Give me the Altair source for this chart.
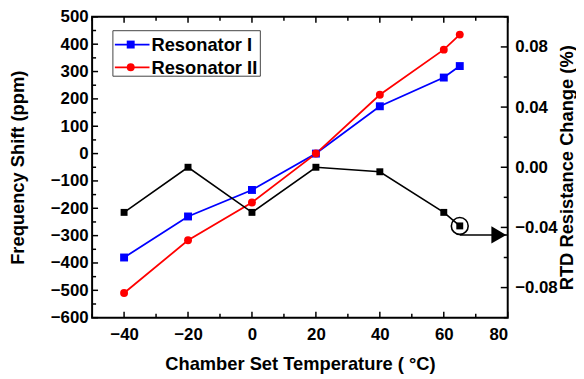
import altair as alt
import pandas as pd

# ---- data ----
temps = [-40, -20, 0, 20, 40, 60, 65]
res1 = [-380, -230, -133, 0, 173, 278, 320]
res2 = [-510, -317, -179, 0, 215, 380, 435]
rtd = [-0.030, 0.000, -0.030, 0.000, -0.003, -0.030, -0.039]
series = ["Resonator I", "Resonator II"]
colors = ["#0000ff", "#ff0000"]

x_major = [-40, -20, 0, 20, 40, 60, 80]
x_minor = [-50, -30, -10, 10, 30, 50, 70]
left_major = list(range(-600, 501, 100))
left_minor = list(range(-550, 500, 100))
right_major = [-0.08, -0.04, 0.0, 0.04, 0.08]
right_minor = [-0.1, -0.06, -0.02, 0.02, 0.06, 0.1]

callout_temp = [65]
callout_rtd = [-0.039]
arrow_from = [65]
arrow_to = [80]
arrow_level = [-0.045]

x_domain = [-50, 80]
left_domain = [-600, 500]
right_domain = [-0.1, 0.1]

TOTAL_W, TOTAL_H = 574, 367
FONT = "Liberation Sans"
LABEL_SIZE = 17

res_df = pd.DataFrame({
    "temp": temps * 2,
    "shift": res1 + res2,
    "series": [series[0]] * len(temps) + [series[1]] * len(temps),
})
rtd_df = pd.DataFrame({"temp": temps, "rtd": rtd})

xs = alt.Scale(domain=x_domain, nice=False, zero=False)
ls = alt.Scale(domain=left_domain, nice=False, zero=False)
rs = alt.Scale(domain=right_domain, nice=False, zero=False)
cs = alt.Scale(domain=series, range=colors)
ss = alt.Scale(domain=series, range=["square", "circle"])

x_axis = alt.Axis(values=x_major, title="Chamber Set Temperature ( °C)", ticks=False,
                  domain=False, grid=False, labelPadding=9, titlePadding=12, format="d")
l_axis = alt.Axis(values=left_major, title="Frequency Shift (ppm)", ticks=False,
                  domain=False, grid=False, labelPadding=4, titlePadding=23, format="d")
r_axis = alt.Axis(values=right_major, title="RTD Resistance Change (%)", orient="right",
                  ticks=False, domain=False, grid=False, labelPadding=7, titlePadding=0,
                  format=".2f", titleAngle=270, titleBaseline="top")

X = alt.X("temp:Q", scale=xs, axis=x_axis)
YL = alt.Y("shift:Q", scale=ls, axis=l_axis)
YR = alt.Y("rtd:Q", scale=rs, axis=r_axis)

# ---- inward tick marks ----
def xticks(vals, length, top):
    d = pd.DataFrame({"temp": vals})
    if top:
        m = alt.Chart(d).mark_rule(color="black", strokeWidth=1.5, y=0, y2=length)
    else:
        m = alt.Chart(d).mark_rule(color="black", strokeWidth=1.5, y="height",
                                   y2={"expr": f"height - {length}"})
    return m.encode(x=X)

def lticks(vals, length):
    d = pd.DataFrame({"shift": vals})
    return alt.Chart(d).mark_rule(color="black", strokeWidth=1.5, x=0, x2=length).encode(y=YL)

def rticks(vals, length):
    d = pd.DataFrame({"rtd": vals})
    return alt.Chart(d).mark_rule(color="black", strokeWidth=1.5, x="width",
                                  x2={"expr": f"width - {length}"}).encode(y=YR)

res_lines = alt.Chart(res_df).mark_line(strokeWidth=1.8).encode(
    x=X, y=YL, color=alt.Color("series:N", scale=cs, legend=None), detail="series:N")
res_pts = alt.Chart(res_df).mark_point(filled=True, opacity=1, size=64).encode(
    x=X, y=YL, color=alt.Color("series:N", scale=cs, legend=None),
    shape=alt.Shape("series:N", scale=ss, legend=None))

left = alt.layer(
    xticks(x_major, 6, False), xticks(x_minor, 4, False),
    xticks(x_major, 6, True), xticks(x_minor, 4, True),
    lticks(left_major, 6), lticks(left_minor, 4),
    res_lines, res_pts,
)

rtd_line = alt.Chart(rtd_df).mark_line(color="black", strokeWidth=1.6).encode(x=X, y=YR)
rtd_pts = alt.Chart(rtd_df).mark_point(filled=True, opacity=1, shape="square", size=49,
                                        color="black").encode(x=X, y=YR)
call_df = pd.DataFrame({"temp": callout_temp, "rtd": callout_rtd})
circle = alt.Chart(call_df).mark_point(shape="circle", filled=False, size=290, color="black",
                                       strokeWidth=1.6, opacity=1).encode(x=X, y=YR)
arr_df = pd.DataFrame({"temp": arrow_from, "temp2": arrow_to, "rtd": arrow_level})
arrow_line = alt.Chart(arr_df).mark_rule(color="black", strokeWidth=1.6).encode(
    x=X, x2="temp2:Q", y=YR)
head_df = pd.DataFrame({"temp": arrow_to, "rtd": arrow_level})
arrow_head = alt.Chart(head_df).mark_point(shape="triangle-right", filled=True, size=300,
                                           color="black", opacity=1, xOffset=-9).encode(x=X, y=YR)

right = alt.layer(
    rticks(right_major, 7), rticks(right_minor, 4),
    rtd_line, rtd_pts, circle, arrow_line, arrow_head,
)

# ---- legend box ----
one = pd.DataFrame({"k": [0]})
leg_layers = [
    alt.Chart(one).mark_rect(fill="white", stroke="#444", strokeWidth=1).encode(
        x=alt.value(21), x2=alt.value(170), y=alt.value(14), y2=alt.value(60))
]
row_y = [28, 51]
leg_shapes = ["square", "circle"]
for name, col, shp, yy in zip(series, colors, leg_shapes, row_y):
    leg_layers.append(alt.Chart(one).mark_rule(color=col, strokeWidth=1.8).encode(
        x=alt.value(23), x2=alt.value(58), y=alt.value(yy)))
    leg_layers.append(alt.Chart(one).mark_point(shape=shp, filled=True, opacity=1, size=64,
                                                color=col).encode(
        x=alt.value(39), y=alt.value(yy)))
    leg_layers.append(alt.Chart(pd.DataFrame({"label": [name]})).mark_text(
        align="left", baseline="middle", font=FONT, fontSize=18.5, fontWeight="bold",
        color="black").encode(x=alt.value(60), y=alt.value(yy + 1), text="label:N"))

chart = alt.layer(left, right, *leg_layers).resolve_scale(y="independent").properties(
    width=TOTAL_W, height=TOTAL_H,
    padding={"left": 0, "top": -2, "right": 0, "bottom": 0},
    autosize=alt.AutoSizeParams(type="fit", contains="padding"),
).configure_view(stroke="black", strokeWidth=2).configure_axis(
    labelFont=FONT, labelFontSize=LABEL_SIZE, labelFontWeight="bold", labelColor="black",
    titleFont=FONT, titleFontSize=18.5, titleFontWeight="bold", titleColor="black",
)

chart.save("out.html", embed_options={"renderer": "svg", "actions": False})
